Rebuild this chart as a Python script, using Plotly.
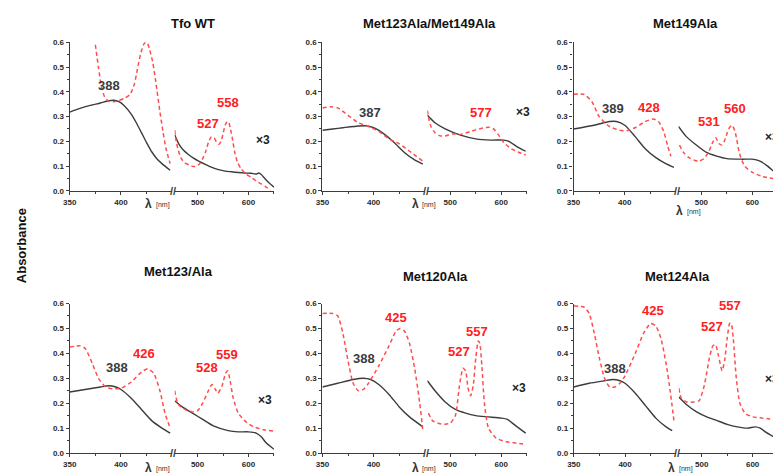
import plotly.graph_objects as go

W, H = 773, 474
FONT = "Liberation Sans, Arial, sans-serif"
BLACK = "#3c3c3c"
RED = "#ff4d4d"
LRED = "#ff2020"

titles = ["Tfo WT", "Met123Ala/Met149Ala", "Met149Ala", "Met123/Ala", "Met120Ala", "Met124Ala"]

# ---------------- Panel 1: Tfo WT ----------------
wt_bl_l_nm = [350, 360, 370, 380, 388, 393, 398, 403, 410, 415, 420, 425, 430, 435, 440, 448]
wt_bl_l_ab = [0.318, 0.333, 0.345, 0.355, 0.364, 0.366, 0.360, 0.345, 0.310, 0.275, 0.235, 0.195, 0.158, 0.130, 0.110, 0.083]
wt_rd_l_nm = [375, 378, 381, 384, 388, 393, 398, 404, 409, 413, 416, 419, 422, 424, 426, 428, 431, 434, 438, 441, 444, 448]
wt_rd_l_ab = [0.59, 0.50, 0.42, 0.38, 0.362, 0.360, 0.365, 0.375, 0.39, 0.43, 0.49, 0.55, 0.59, 0.60, 0.595, 0.57, 0.52, 0.44, 0.32, 0.24, 0.17, 0.11]
wt_bl_r_nm = [455, 463, 472, 482, 492, 502, 515, 528, 541, 554, 567, 580, 592, 605, 615, 620, 625, 632, 640, 650]
wt_bl_r_ab = [0.226, 0.190, 0.165, 0.147, 0.132, 0.120, 0.107, 0.095, 0.086, 0.080, 0.077, 0.074, 0.072, 0.071, 0.068, 0.072, 0.066, 0.050, 0.033, 0.015]
wt_rd_r_nm = [455, 458, 462, 468, 475, 483, 492, 498, 504, 510, 516, 522, 527, 532, 537, 542, 546, 550, 554, 558, 561, 564, 568, 573, 578, 585, 595, 605, 615, 625, 635, 643]
wt_rd_r_ab = [0.245, 0.20, 0.165, 0.13, 0.113, 0.105, 0.098, 0.10, 0.11, 0.13, 0.16, 0.20, 0.218, 0.215, 0.198, 0.188, 0.20, 0.23, 0.265, 0.28, 0.278, 0.255, 0.215, 0.155, 0.118, 0.09, 0.068, 0.055, 0.04, 0.028, 0.015, 0.003]

# ---------------- Panel 2: Met123Ala/Met149Ala ----------------
dm_bl_l_nm = [350, 360, 370, 385, 392, 400, 410, 420, 430, 440, 448]
dm_bl_l_ab = [0.245, 0.250, 0.255, 0.262, 0.263, 0.255, 0.230, 0.195, 0.155, 0.125, 0.108]
dm_rd_l_nm = [350, 358, 365, 375, 385, 395, 405, 415, 425, 435, 448]
dm_rd_l_ab = [0.335, 0.340, 0.335, 0.305, 0.275, 0.260, 0.240, 0.210, 0.190, 0.160, 0.120]
dm_bl_r_nm = [455, 470, 490, 520, 550, 580, 605, 615, 630, 648]
dm_bl_r_ab = [0.305, 0.275, 0.250, 0.225, 0.210, 0.205, 0.205, 0.200, 0.180, 0.160]
dm_rd_r_nm = [455, 458, 462, 470, 480, 490, 505, 520, 540, 560, 577, 585, 595, 605, 620, 635, 648]
dm_rd_r_ab = [0.325, 0.29, 0.26, 0.235, 0.222, 0.222, 0.230, 0.228, 0.240, 0.252, 0.257, 0.250, 0.225, 0.195, 0.170, 0.155, 0.145]

# ---------------- Panel 3: Met149Ala ----------------
m149_bl_l_nm = [350, 370, 385, 392, 400, 410, 420, 430, 440, 448]
m149_bl_l_ab = [0.250, 0.265, 0.280, 0.280, 0.265, 0.220, 0.170, 0.135, 0.110, 0.095]
m149_rd_l_nm = [350, 360, 368, 375, 385, 395, 402, 410, 420, 428, 433, 438, 442, 445]
m149_rd_l_ab = [0.39, 0.39, 0.36, 0.30, 0.26, 0.245, 0.243, 0.255, 0.28, 0.29, 0.28, 0.24, 0.18, 0.14]
m149_bl_r_nm = [455, 470, 490, 510, 530, 550, 580, 600, 615, 630, 641]
m149_bl_r_ab = [0.260, 0.220, 0.185, 0.155, 0.140, 0.130, 0.128, 0.128, 0.120, 0.100, 0.080]
m149_rd_r_nm = [457, 465, 475, 485, 495, 505, 515, 522, 528, 535, 540, 545, 550, 555, 560, 566, 575, 585, 600, 620, 641]
m149_rd_r_ab = [0.185, 0.155, 0.135, 0.125, 0.120, 0.130, 0.160, 0.195, 0.215, 0.190, 0.185, 0.200, 0.230, 0.255, 0.265, 0.240, 0.150, 0.100, 0.075, 0.058, 0.050]

# ---------------- Panel 4: Met123/Ala ----------------
m123_bl_l_nm = [350, 365, 380, 388, 395, 400, 410, 420, 430, 440, 448]
m123_bl_l_ab = [0.245, 0.255, 0.265, 0.270, 0.265, 0.255, 0.220, 0.175, 0.130, 0.100, 0.080]
m123_rd_l_nm = [350, 360, 365, 372, 378, 385, 392, 400, 410, 420, 426, 432, 438, 443, 448]
m123_rd_l_ab = [0.425, 0.43, 0.42, 0.36, 0.30, 0.265, 0.258, 0.26, 0.285, 0.325, 0.338, 0.32, 0.25, 0.16, 0.10]
m123_bl_r_nm = [455, 470, 490, 510, 530, 560, 580, 600, 615, 625, 635, 650]
m123_bl_r_ab = [0.210, 0.185, 0.160, 0.135, 0.110, 0.090, 0.085, 0.085, 0.080, 0.065, 0.040, 0.015]
m123_rd_r_nm = [455, 462, 475, 490, 500, 510, 520, 528, 535, 540, 548, 555, 559, 563, 570, 580, 595, 610, 630, 650]
m123_rd_r_ab = [0.25, 0.195, 0.175, 0.165, 0.17, 0.20, 0.245, 0.275, 0.255, 0.24, 0.27, 0.32, 0.33, 0.30, 0.22, 0.16, 0.125, 0.105, 0.093, 0.088]

# ---------------- Panel 5: Met120Ala ----------------
m120_bl_l_nm = [350, 365, 380, 390, 397, 405, 415, 425, 435, 448]
m120_bl_l_ab = [0.265, 0.280, 0.295, 0.300, 0.295, 0.275, 0.235, 0.185, 0.145, 0.105]
m120_rd_l_nm = [350, 360, 365, 370, 375, 380, 385, 390, 395, 405, 415, 422, 426, 430, 435, 440, 445, 448]
m120_rd_l_ab = [0.56, 0.56, 0.55, 0.48, 0.37, 0.28, 0.25, 0.255, 0.28, 0.35, 0.43, 0.49, 0.50, 0.49, 0.44, 0.34, 0.20, 0.09]
m120_bl_r_nm = [455, 470, 490, 510, 530, 550, 575, 600, 612, 625, 638, 648]
m120_bl_r_ab = [0.290, 0.250, 0.205, 0.175, 0.160, 0.150, 0.145, 0.140, 0.135, 0.115, 0.095, 0.080]
m120_rd_r_nm = [457, 465, 475, 490, 500, 510, 518, 525, 530, 535, 540, 545, 550, 555, 558, 562, 567, 575, 590, 610, 630, 648]
m120_rd_r_ab = [0.16, 0.13, 0.12, 0.115, 0.12, 0.15, 0.27, 0.34, 0.33, 0.26, 0.23, 0.27, 0.38, 0.45, 0.44, 0.35, 0.20, 0.10, 0.06, 0.045, 0.04, 0.035]

# ---------------- Panel 6: Met124Ala ----------------
m124_bl_l_nm = [350, 365, 380, 388, 395, 400, 410, 420, 430, 440, 446]
m124_bl_l_ab = [0.265, 0.280, 0.290, 0.295, 0.290, 0.280, 0.240, 0.190, 0.140, 0.105, 0.090]
m124_rd_l_nm = [350, 360, 365, 370, 375, 380, 385, 390, 395, 400, 410, 418, 425, 430, 435, 440, 444, 448]
m124_rd_l_ab = [0.59, 0.585, 0.56, 0.48, 0.38, 0.30, 0.265, 0.265, 0.28, 0.31, 0.40, 0.48, 0.52, 0.51, 0.46, 0.36, 0.25, 0.12]
m124_bl_r_nm = [455, 470, 490, 510, 530, 550, 570, 590, 605, 615, 625, 641]
m124_bl_r_ab = [0.225, 0.195, 0.165, 0.145, 0.130, 0.115, 0.105, 0.100, 0.105, 0.100, 0.085, 0.065]
m124_rd_r_nm = [455, 460, 470, 485, 495, 505, 515, 522, 527, 533, 540, 545, 550, 555, 558, 562, 568, 575, 585, 600, 620, 641]
m124_rd_r_ab = [0.26, 0.22, 0.205, 0.205, 0.21, 0.27, 0.38, 0.43, 0.435, 0.39, 0.33, 0.37, 0.46, 0.52, 0.52, 0.46, 0.30, 0.20, 0.16, 0.145, 0.14, 0.135]

series = [
    (wt_bl_l_nm, wt_bl_l_ab, wt_rd_l_nm, wt_rd_l_ab, wt_bl_r_nm, wt_bl_r_ab, wt_rd_r_nm, wt_rd_r_ab),
    (dm_bl_l_nm, dm_bl_l_ab, dm_rd_l_nm, dm_rd_l_ab, dm_bl_r_nm, dm_bl_r_ab, dm_rd_r_nm, dm_rd_r_ab),
    (m149_bl_l_nm, m149_bl_l_ab, m149_rd_l_nm, m149_rd_l_ab, m149_bl_r_nm, m149_bl_r_ab, m149_rd_r_nm, m149_rd_r_ab),
    (m123_bl_l_nm, m123_bl_l_ab, m123_rd_l_nm, m123_rd_l_ab, m123_bl_r_nm, m123_bl_r_ab, m123_rd_r_nm, m123_rd_r_ab),
    (m120_bl_l_nm, m120_bl_l_ab, m120_rd_l_nm, m120_rd_l_ab, m120_bl_r_nm, m120_bl_r_ab, m120_rd_r_nm, m120_rd_r_ab),
    (m124_bl_l_nm, m124_bl_l_ab, m124_rd_l_nm, m124_rd_l_ab, m124_bl_r_nm, m124_bl_r_ab, m124_rd_r_nm, m124_rd_r_ab),
]

# peak labels: (text, segment 'L'/'R', nm, absorbance, colour)
peak_labels = [
    [("426", "L", 422.5, 0.642, LRED), ("388", "L", 388, 0.424, BLACK), ("527", "R", 521.4, 0.272, LRED), ("558", "R", 559, 0.358, LRED)],
    [("387", "L", 396, 0.318, BLACK), ("577", "R", 561, 0.318, LRED)],
    [("389", "L", 388.7, 0.332, BLACK), ("428", "L", 424, 0.338, LRED), ("531", "R", 514.6, 0.279, LRED), ("560", "R", 565.6, 0.332, LRED)],
    [("426", "L", 422.5, 0.399, LRED), ("388", "L", 395.8, 0.344, BLACK), ("528", "R", 518, 0.344, LRED), ("559", "R", 558.4, 0.396, LRED)],
    [("425", "L", 422, 0.543, LRED), ("388", "L", 391, 0.381, BLACK), ("527", "R", 518, 0.409, LRED), ("557", "R", 551.6, 0.488, LRED)],
    [("425", "L", 427.4, 0.573, LRED), ("388", "L", 389.7, 0.341, BLACK), ("527", "R", 519.7, 0.508, LRED), ("557", "R", 556, 0.593, LRED)],
]
times3_pos = [(628.6, 0.206), (642, 0.318), (638.5, 0.219), (631.8, 0.213), (635.5, 0.259), (638, 0.298)]

# ---------------- geometry (pixels) ----------------
panel_x0 = [63.3, 318.3, 571.7, 63.3, 318.3, 572.0]
row_px = [(39.0, 190.5), (39.0, 190.5), (39.0, 190.5), (305.3, 457.7), (305.3, 457.7), (305.3, 457.7)]
title_px = [(188, 20), (426.7, 20), (685, 20), (173, 273), (432, 277.7), (676.7, 277.7)]
lam_px = [(150, 204), (419, 204), (686, 211), (150, 473), (419, 473), (678, 473)]
LEFT_W = 103.4      # px for 350-450 nm
RIGHT_OFF = 105.9   # px offset of 455 nm
RIGHT_SLOPE = 0.514 # px per nm on the right segment

fig = go.Figure()
layout = dict(
    width=W, height=H, margin=dict(l=0, r=0, t=0, b=0),
    paper_bgcolor="white", plot_bgcolor="white", showlegend=False,
    font=dict(family=FONT, color=BLACK),
)
annotations = []

tickfont = dict(family=FONT, size=8, color="#2a2a2a", weight="bold")

for i in range(6):
    x0 = panel_x0[i]
    top, bot = row_px[i]
    ydom = [(H - bot) / H, (H - top) / H]
    lx = [x0 / W, (x0 + LEFT_W) / W]
    rstart = x0 + RIGHT_OFF
    rend = min(x0 + RIGHT_OFF + (650 - 455) * RIGHT_SLOPE, W)
    rmax = 455 + (rend - rstart) / RIGHT_SLOPE
    rx = [rstart / W, rend / W]
    xl = 2 * i + 1
    xr = 2 * i + 2
    yi = i + 1
    xl_name = "xaxis" if xl == 1 else f"xaxis{xl}"
    xr_name = f"xaxis{xr}"
    y_name = "yaxis" if yi == 1 else f"yaxis{yi}"
    xl_ref = "x" if xl == 1 else f"x{xl}"
    xr_ref = f"x{xr}"
    y_ref = "y" if yi == 1 else f"y{yi}"

    layout[xl_name] = dict(domain=lx, anchor=y_ref, range=[350, 450], showline=True, linecolor=BLACK,
                           linewidth=1.2, showgrid=False, zeroline=False, ticks="outside", ticklen=3,
                           tickcolor=BLACK, tickvals=[350, 400], ticktext=["350", "400"], tickfont=tickfont,
                           minor=dict(tickvals=[375, 425], ticks="outside", ticklen=2, tickcolor=BLACK))
    layout[xr_name] = dict(domain=rx, anchor=y_ref, range=[455, rmax], showline=True, linecolor=BLACK,
                           linewidth=1.2, showgrid=False, zeroline=False, ticks="outside", ticklen=3,
                           tickcolor=BLACK, tickvals=[500, 600], ticktext=["500", "600"], tickfont=tickfont,
                           minor=dict(tickvals=[550, 650], ticks="outside", ticklen=2, tickcolor=BLACK))
    layout[y_name] = dict(domain=ydom, anchor=xl_ref, range=[0, 0.6], showline=True, linecolor=BLACK,
                          linewidth=1.2, showgrid=False, zeroline=False, ticks="outside", ticklen=3,
                          tickcolor=BLACK, tickvals=[0, 0.1, 0.2, 0.3, 0.4, 0.5, 0.6],
                          ticktext=["0.0", "0.1", "0.2", "0.3", "0.4", "0.5", "0.6"], tickfont=tickfont,
                          minor=dict(tickvals=[0.05, 0.15, 0.25, 0.35, 0.45, 0.55], ticks="outside",
                                     ticklen=2, tickcolor=BLACK))

    bl_l_x, bl_l_y, rd_l_x, rd_l_y, bl_r_x, bl_r_y, rd_r_x, rd_r_y = series[i]
    solid = dict(color=BLACK, width=1.4, shape="spline", smoothing=0.6)
    dashed = dict(color=RED, width=1.5, dash="4px,3px", shape="spline", smoothing=0.6)
    fig.add_trace(go.Scatter(x=bl_l_x, y=bl_l_y, mode="lines", line=solid, xaxis=xl_ref, yaxis=y_ref))
    fig.add_trace(go.Scatter(x=rd_l_x, y=rd_l_y, mode="lines", line=dashed, xaxis=xl_ref, yaxis=y_ref))
    fig.add_trace(go.Scatter(x=bl_r_x, y=bl_r_y, mode="lines", line=solid, xaxis=xr_ref, yaxis=y_ref))
    fig.add_trace(go.Scatter(x=rd_r_x, y=rd_r_y, mode="lines", line=dashed, xaxis=xr_ref, yaxis=y_ref))

    for (txt, seg, nx, ny, col) in peak_labels[i]:
        annotations.append(dict(text=txt, x=nx, y=ny, xref=xl_ref if seg == "L" else xr_ref, yref=y_ref,
                                showarrow=False, xanchor="center", yanchor="middle",
                                font=dict(family=FONT, size=13, color=col, weight="bold")))
    tx, ty = times3_pos[i]
    annotations.append(dict(text="×3", x=tx, y=ty, xref=xr_ref, yref=y_ref, showarrow=False,
                            xanchor="center", yanchor="middle",
                            font=dict(family=FONT, size=12, color="#222222", weight="bold")))
    # title
    px, py = title_px[i]
    annotations.append(dict(text=titles[i], x=px / W, y=1 - py / H, xref="paper", yref="paper",
                            showarrow=False, xanchor="center", yanchor="middle",
                            font=dict(family=FONT, size=13, color="#111111", weight="bold")))
    # axis break mark
    annotations.append(dict(text="//", x=(x0 + LEFT_W + 1.2) / W, y=1 - bot / H, xref="paper",
                            yref="paper", showarrow=False, xanchor="center", yanchor="middle",
                            font=dict(family=FONT, size=11, color=BLACK, weight="bold")))
    # lambda label
    lx_, ly_ = lam_px[i]
    annotations.append(dict(text="λ", x=(lx_ - 7) / W, y=1 - ly_ / H,
                            xref="paper", yref="paper", showarrow=False, xanchor="center", yanchor="middle",
                            font=dict(family=FONT, size=12, color="#333333", weight="bold")))
    annotations.append(dict(text="[nm]", x=(lx_ + 7) / W, y=1 - (ly_ + 1) / H,
                            xref="paper", yref="paper", showarrow=False, xanchor="center", yanchor="middle",
                            font=dict(family=FONT, size=7, color="#333333")))

annotations.append(dict(text="Absorbance", x=14 / W, y=1 - 246 / H, xref="paper", yref="paper",
                        showarrow=False, textangle=-90, xanchor="center", yanchor="middle",
                        font=dict(family=FONT, size=13, color="#111111", weight="bold")))
layout["annotations"] = annotations
fig.update_layout(**layout)
fig.write_html("out.html")
